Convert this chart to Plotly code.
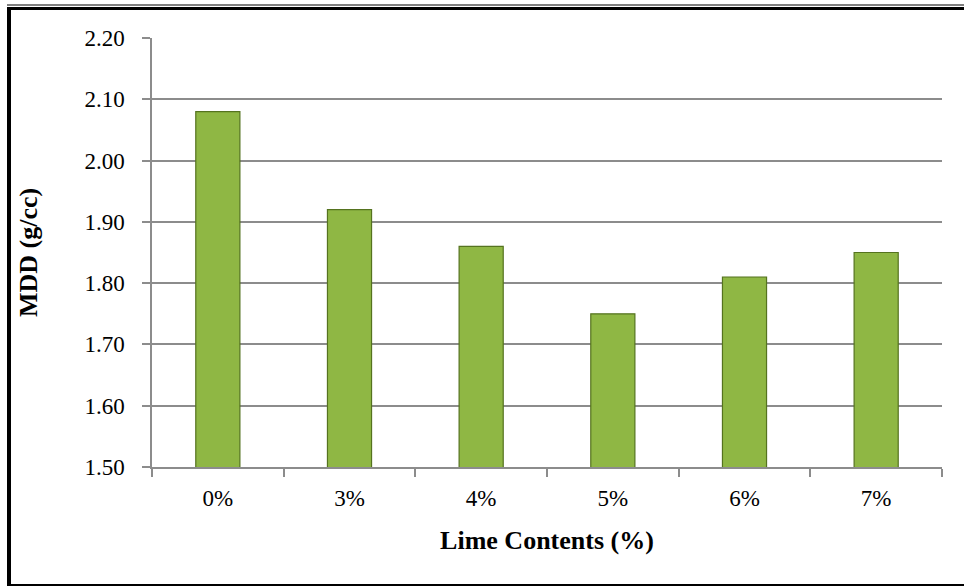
import plotly.graph_objects as go

categories = ["0%", "3%", "4%", "5%", "6%", "7%"]
mdd = [2.08, 1.92, 1.86, 1.75, 1.81, 1.85]
y_ticks = [1.50, 1.60, 1.70, 1.80, 1.90, 2.00, 2.10, 2.20]

W, H = 964, 586
L, R, T, B = 152, 22, 38, 119
pw, ph = W - L - R, H - T - B

def px(x):
    return (x - L) / pw

def py(y):
    return (H - B - y) / ph

fig = go.Figure()
fig.add_trace(go.Bar(
    x=categories, y=mdd,
    marker=dict(color="#8fb744", line=dict(color="#55731f", width=1.2)),
    width=0.335,
))

font = "Liberation Serif"
grid = "#8c8c8c"
fig.update_layout(
    width=W, height=H,
    margin=dict(l=L, r=R, t=T, b=B),
    paper_bgcolor="white", plot_bgcolor="white",
    showlegend=False,
    font=dict(family=font, color="black", size=23),
    xaxis=dict(
        tickson="boundaries", ticks="outside", ticklen=8, tickcolor=grid, tickwidth=1.5,
        showline=True, linecolor=grid, linewidth=1.5,
        tickfont=dict(family=font, size=23, color="black"), ticklabelstandoff=10,
        title=dict(text="<b>Lime Contents (%)</b>", font=dict(family=font, size=26), standoff=20),
    ),
    yaxis=dict(
        range=[1.5, 2.2], tickvals=y_ticks, ticktext=[f"{v:.2f}" for v in y_ticks],
        ticks="outside", ticklen=8, tickcolor=grid, tickwidth=1.5,
        showgrid=True, gridcolor=grid, gridwidth=1.5,
        showline=True, linecolor=grid, linewidth=1.5, zeroline=False,
        tickfont=dict(family=font, size=23, color="black"), ticklabelstandoff=13,
        title=dict(text="<b>MDD (g/cc)</b>", font=dict(family=font, size=26), standoff=39),
    ),
    shapes=[
        dict(type="line", xref="paper", yref="paper", x0=px(9), x1=px(9), y0=py(7), y1=py(590),
             line=dict(color="black", width=4)),
        dict(type="line", xref="paper", yref="paper", x0=px(7), x1=px(970), y0=py(8.5), y1=py(8.5),
             line=dict(color="black", width=3)),
        dict(type="line", xref="paper", yref="paper", x0=px(7), x1=px(970), y0=py(5), y1=py(5),
             line=dict(color="black", width=1.2)),
        dict(type="line", xref="paper", yref="paper", x0=px(7), x1=px(970), y0=py(585), y1=py(585),
             line=dict(color="black", width=2)),
    ],
)
fig.write_html("out.html")
